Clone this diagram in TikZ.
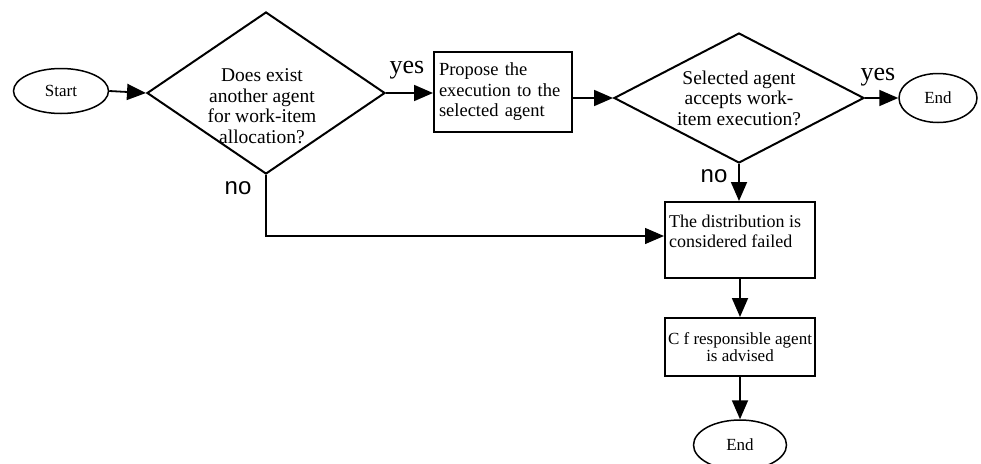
\documentclass[tikz,border=0pt]{standalone}
\usepackage{fontspec}
\setmainfont{Liberation Serif}
\newfontfamily\labelsans{Liberation Sans}
\usetikzlibrary{shapes.geometric,arrows.meta}

\begin{document}
\begin{tikzpicture}[x=1pt,y=1pt,
  every node/.style={inner sep=0pt},
  term/.style={draw,ellipse,line width=1.5pt,font=\fontsize{17}{19}\selectfont},
  decision/.style={draw,diamond,line width=2pt},
  qtext/.style={align=center,font=\fontsize{19.5}{20.5}\selectfont},
  proc/.style={draw,rectangle,line width=2pt,font=\fontsize{18.5}{20.5}\selectfont},
  flow/.style={line width=1.8pt,-{Triangle[length=19pt,width=16pt]}},
  yeslab/.style={font=\fontsize{26}{28}\selectfont},
  nolab/.style={font=\labelsans\fontsize{24}{26}\selectfont}
]
\useasboundingbox (0,0) rectangle (981,-463);

% terminals
\node[term,minimum width=95pt,minimum height=45pt] (start) at (61,-91) {Start};
\node[term,minimum width=78pt,minimum height=49pt] (end1) at (938,-98) {End};
\node[term,minimum width=93pt,minimum height=50pt] (end2) at (740,-445) {End};

% first decision
\node[decision,minimum width=238pt,minimum height=162pt] (d1) at (266,-93) {};
\node[qtext] (d1t) at (262,-106) {Does exist\\another agent\\for work-item\\allocation?};

% proposal step
\node[proc,minimum width=138pt,minimum height=80pt,text width=128pt,inner xsep=5pt,align=left]
  (box1) at (503,-92) {Propose the\\execution to the\\selected agent};

% second decision
\node[decision,aspect=1.92,minimum width=250pt,minimum height=130pt,qtext] (d2) at (739,-98)
  {Selected agent\\accepts work-\\item execution?};

% failure and notification steps
\node[proc,inner xsep=4pt,font=\fontsize{18}{20}\selectfont] (box2) at (740,-240)
  {\parbox[c][76pt][t]{142pt}{\vspace*{13pt}The distribution is\\considered failed}};
\node[proc,minimum width=150pt,minimum height=58pt,align=center,
  font=\fontsize{17}{17}\selectfont] (box3) at (740,-347)
  {C f responsible agent\\is advised};

% branch labels
\node[yeslab] (yes1) at (407,-70) {yes};
\node[yeslab] (yes2) at (878,-77) {yes};
\node[nolab] (no1) at (238,-188) {no};
\node[nolab] (no2) at (714,-176) {no};

% connectors
\draw[flow] (start.east) -- (d1.west);
\draw[flow] (d1.east) -- (d1.east -| box1.west);
\draw[flow] (d2.west -| box1.east) -- (d2.west);
\draw[flow] (d2.east) -- (end1.west);
\draw[flow] (d2.south) -- (d2.south |- box2.north);
\draw[flow,line width=1.3pt] (d1.south) |- ([yshift=4pt]box2.west);
\draw[flow] (box2.south -| box3.north) -- (box3.north);
\draw[flow] (box3.south) -- (box3.south |- end2.north);
\end{tikzpicture}
\end{document}
